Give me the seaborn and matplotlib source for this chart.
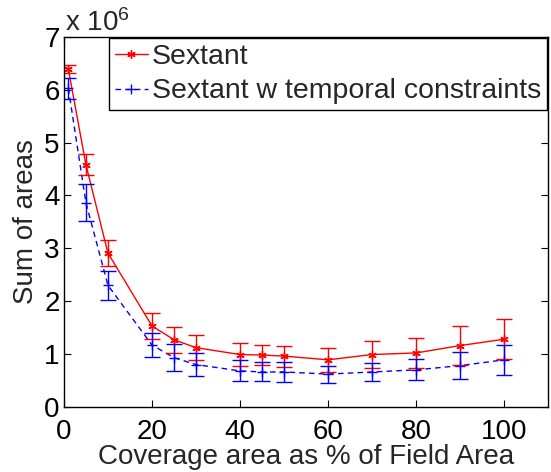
import matplotlib
matplotlib.use("Agg")
import matplotlib.pyplot as plt
import seaborn as sns
import pandas as pd

coverage = [1, 5, 10, 20, 25, 30, 40, 45, 50, 60, 70, 80, 90, 100]

# Sum of areas, in units of 10^6
sextant = [6.39, 4.58, 2.91, 1.53, 1.27, 1.12, 0.99, 0.98, 0.96, 0.89, 0.99, 1.02, 1.16, 1.28]
sextant_err = [0.07, 0.20, 0.25, 0.25, 0.25, 0.23, 0.21, 0.19, 0.20, 0.23, 0.25, 0.28, 0.37, 0.38]

temporal = [6.03, 3.86, 2.30, 1.17, 0.93, 0.80, 0.68, 0.66, 0.66, 0.62, 0.66, 0.70, 0.78, 0.89]
temporal_err = [0.20, 0.35, 0.27, 0.23, 0.25, 0.22, 0.20, 0.18, 0.19, 0.16, 0.17, 0.20, 0.25, 0.28]

series_names = ["Sextant", "Sextant w temporal constraints"]

sns.set_style("ticks")
plt.rcParams["font.family"] = ["Liberation Sans", "DejaVu Sans"]
plt.rcParams["mathtext.default"] = "regular"

df_s = pd.DataFrame({"coverage": coverage, "area": sextant})
df_t = pd.DataFrame({"coverage": coverage, "area": temporal})

fig = plt.figure(figsize=(5.51, 4.72), dpi=100)
ax = fig.add_axes([0.116, 0.138, 0.879, 0.784])

red = (1.0, 0.0, 0.0)
blue = (0.0, 0.0, 1.0)
asterisk = (6, 2, 0)
FS = 20

sns.lineplot(data=df_s, x="coverage", y="area", color=red, linestyle="-",
             marker=asterisk, markersize=6, markeredgecolor=red,
             markeredgewidth=1.0, linewidth=1.0, ax=ax, label=series_names[0])
sns.lineplot(data=df_t, x="coverage", y="area", color=blue, linestyle=(0, (4, 3)),
             marker="+", markersize=7, markeredgecolor=blue,
             markeredgewidth=1.0, linewidth=1.0, ax=ax, label=series_names[1])

ax.errorbar(coverage, sextant, yerr=sextant_err, fmt="none", ecolor=red,
            elinewidth=1.0, capsize=5.5, capthick=1.0)
ax.errorbar(coverage, temporal, yerr=temporal_err, fmt="none", ecolor=blue,
            elinewidth=1.0, capsize=5.5, capthick=1.0)

ax.set_xlim(0, 110)
ax.set_ylim(0, 7)
ax.set_xticks([0, 20, 40, 60, 80, 100])
ax.set_yticks(range(0, 8))
ax.tick_params(direction="in", length=5, width=0.8, labelsize=FS,
               top=True, right=True, colors="black")
ax.tick_params(axis="x", pad=9)
ax.tick_params(axis="y", pad=3)
for s in ax.spines.values():
    s.set_linewidth(1.0)
    s.set_color("black")

ax.set_xlabel("Coverage area as % of Field Area", fontsize=FS, labelpad=-1)
ax.set_ylabel("Sum of areas", fontsize=FS, labelpad=4)
ax.text(0.002, 1.0, r"x $10^6$", transform=ax.transAxes, fontsize=FS,
        ha="left", va="bottom")

leg = ax.legend(loc="upper right", fontsize=20.5, frameon=True, fancybox=False,
                edgecolor="black", framealpha=1.0, handlelength=1.15,
                borderpad=0.2, labelspacing=0.3, handletextpad=0.15,
                borderaxespad=0.05)
leg.get_frame().set_linewidth(1.0)

fig.savefig("out.png", dpi=100)
